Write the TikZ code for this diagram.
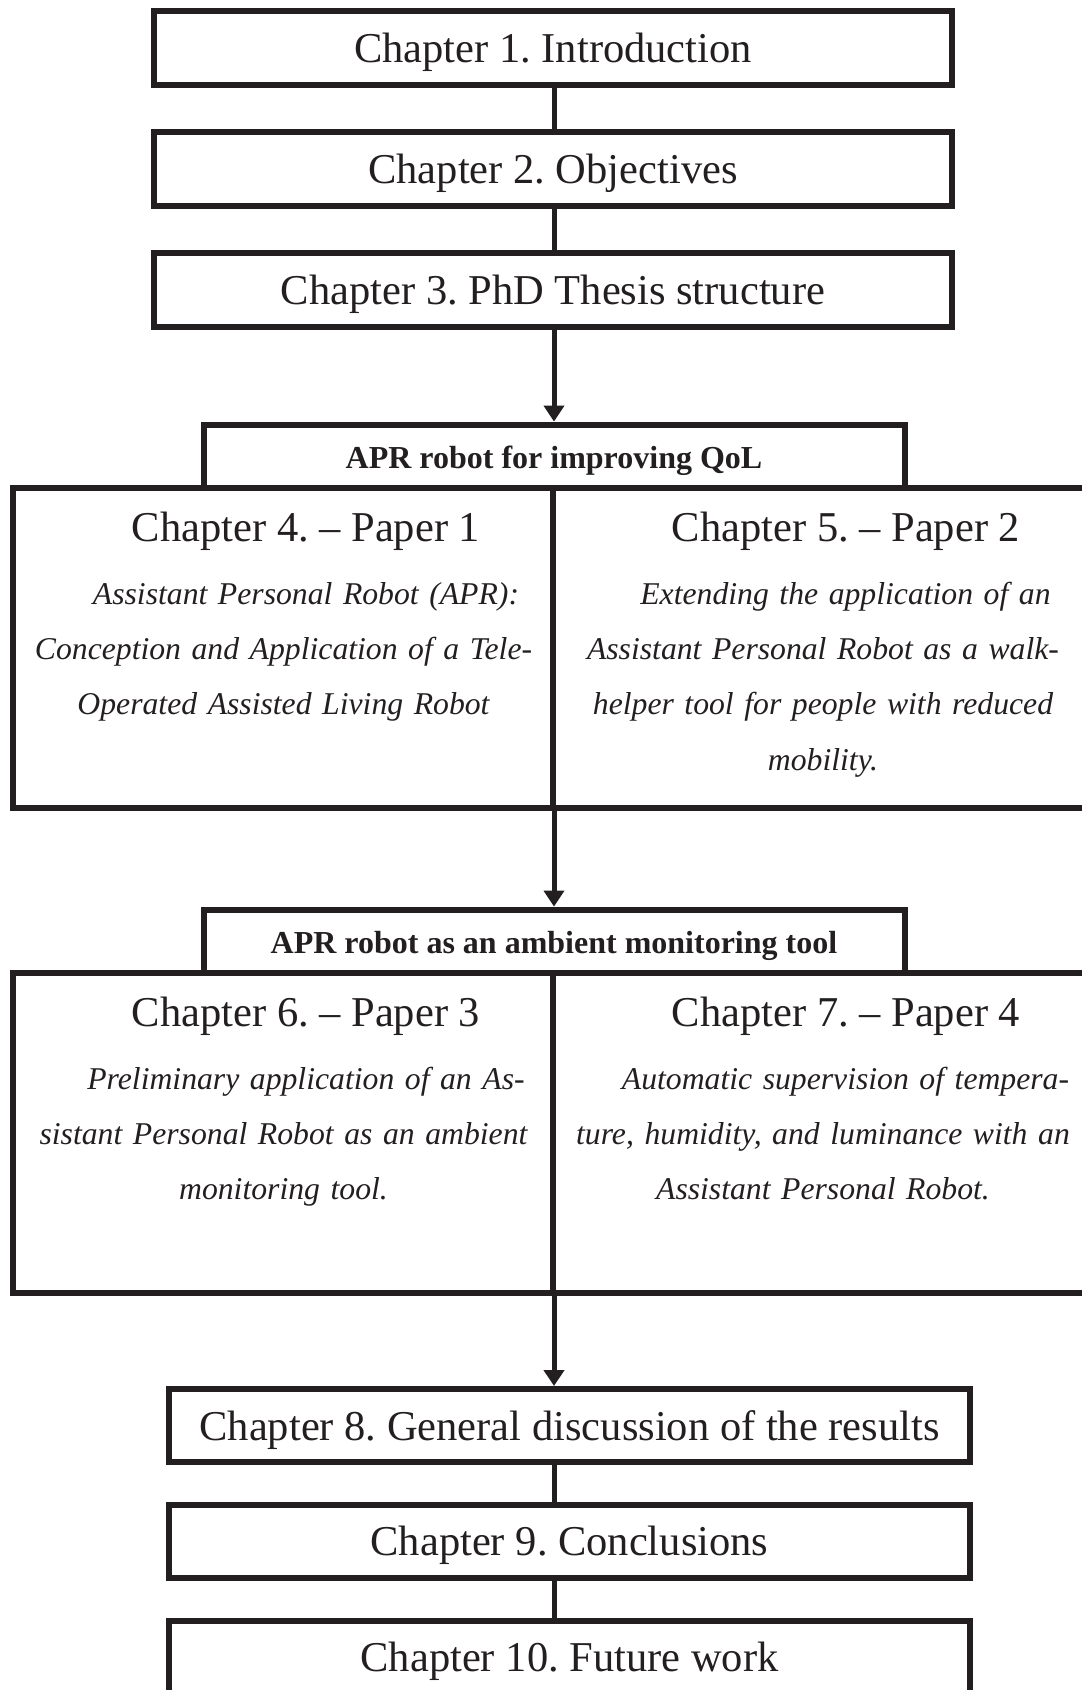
\documentclass[tikz,border=0pt]{standalone}
\usepackage{fontspec}
\setmainfont{Liberation Serif}
\usetikzlibrary{arrows.meta}
\definecolor{ink}{RGB}{35,31,32}
\frenchspacing
\begin{document}
\begin{tikzpicture}[x=1pt,y=-1pt,
  chbox/.style={draw=ink, line width=6pt, inner sep=0pt, text=ink,
    minimum height=74pt, text height=29pt, text depth=0pt,
    font=\fontsize{42.5}{50}\selectfont},
  aprbox/.style={draw=ink, line width=6pt, inner sep=0pt, text=ink,
    minimum width=701pt, minimum height=63.5pt, text height=23.5pt, text depth=0pt,
    font=\bfseries\fontsize{32}{38}\selectfont},
  colbox/.style={draw=ink, line width=6pt, inner sep=0pt,
    minimum width=540pt, minimum height=320pt},
  head/.style={anchor=base, inner sep=0pt, text=ink, font=\fontsize{42.5}{50}\selectfont},
  body/.style={anchor=north, inner sep=0pt, text=ink, text width=540pt, align=center,
    font=\itshape\fontsize{31.7}{55.3}\selectfont},
  conn/.style={draw=ink, line width=5pt},
  arr/.style={conn, -{Triangle[length=16pt,width=20pt]}}
]
\useasboundingbox (0,0) rectangle (1082,1690);
\clip (0,0) rectangle (1082,1690);
\coordinate (spine) at (554,0);

% top chapters
\node[chbox, minimum width=798pt] (b1) at (553,48) {Chapter 1. Introduction};
\node[chbox, minimum width=798pt] (b2) at (553,169) {Chapter 2. Objectives};
\node[chbox, minimum width=798pt] (b3) at (553,290) {Chapter 3. PhD Thesis structure};

% block 1
\node[aprbox] (apr1) at (554,456.3) {APR robot for improving QoL};
\node[colbox] (c4) at (283,648) {};
\node[colbox] (c5) at (823,648) {};
\node[head] (c4h) at (306,541) {Chapter 4. – Paper 1};
\node[head] (c5h) at (846,541) {Chapter 5. – Paper 2};
\node[body] (c4b) at (283.5,579) {\rule{0pt}{25pt}\hspace*{45pt}Assistant Personal Robot (APR):\\
  Conception and Application of a Tele-\\Operated Assisted Living Robot};
\node[body] (c5b) at (823,579) {\rule{0pt}{25pt}\hspace*{45pt}Extending the application of an\\
  Assistant Personal Robot as a walk-\\helper tool for people with reduced\\mobility.};

% block 2
\node[aprbox] (apr2) at (554,941.3) {APR robot as an ambient monitoring tool};
\node[colbox] (c6) at (283,1133) {};
\node[colbox] (c7) at (823,1133) {};
\node[head] (c6h) at (306,1026) {Chapter 6. – Paper 3};
\node[head] (c7h) at (846,1026) {Chapter 7. – Paper 4};
\node[body] (c6b) at (283.5,1064) {\rule{0pt}{25pt}\hspace*{45pt}Preliminary application of an As-\\
  sistant Personal Robot as an ambient\\monitoring tool.};
\node[body] (c7b) at (823,1064) {\rule{0pt}{25pt}\hspace*{45pt}Automatic supervision of tempera-\\
  ture, humidity, and luminance with an\\Assistant Personal Robot.};

% bottom chapters
\node[chbox, minimum width=801pt, minimum height=73pt] (b8) at (569.5,1425.5) {Chapter 8. General discussion of the results};
\node[chbox, minimum width=801pt, minimum height=73pt] (b9) at (569.5,1541) {Chapter 9. Conclusions};
\node[chbox, minimum width=801pt, minimum height=73pt] (b10) at (569.5,1657) {Chapter 10. Future work};

% connectors
\draw[conn] (b1.south -| spine) -- (b2.north -| spine);
\draw[conn] (b2.south -| spine) -- (b3.north -| spine);
\draw[arr] (b3.south -| spine) -- (apr1.north -| spine);
\draw[arr] (c4.south -| spine) -- (apr2.north -| spine);
\draw[arr] (c6.south -| spine) -- (b8.north -| spine);
\draw[conn] (b8.south -| spine) -- (b9.north -| spine);
\draw[conn] (b9.south -| spine) -- (b10.north -| spine);
\end{tikzpicture}
\end{document}
